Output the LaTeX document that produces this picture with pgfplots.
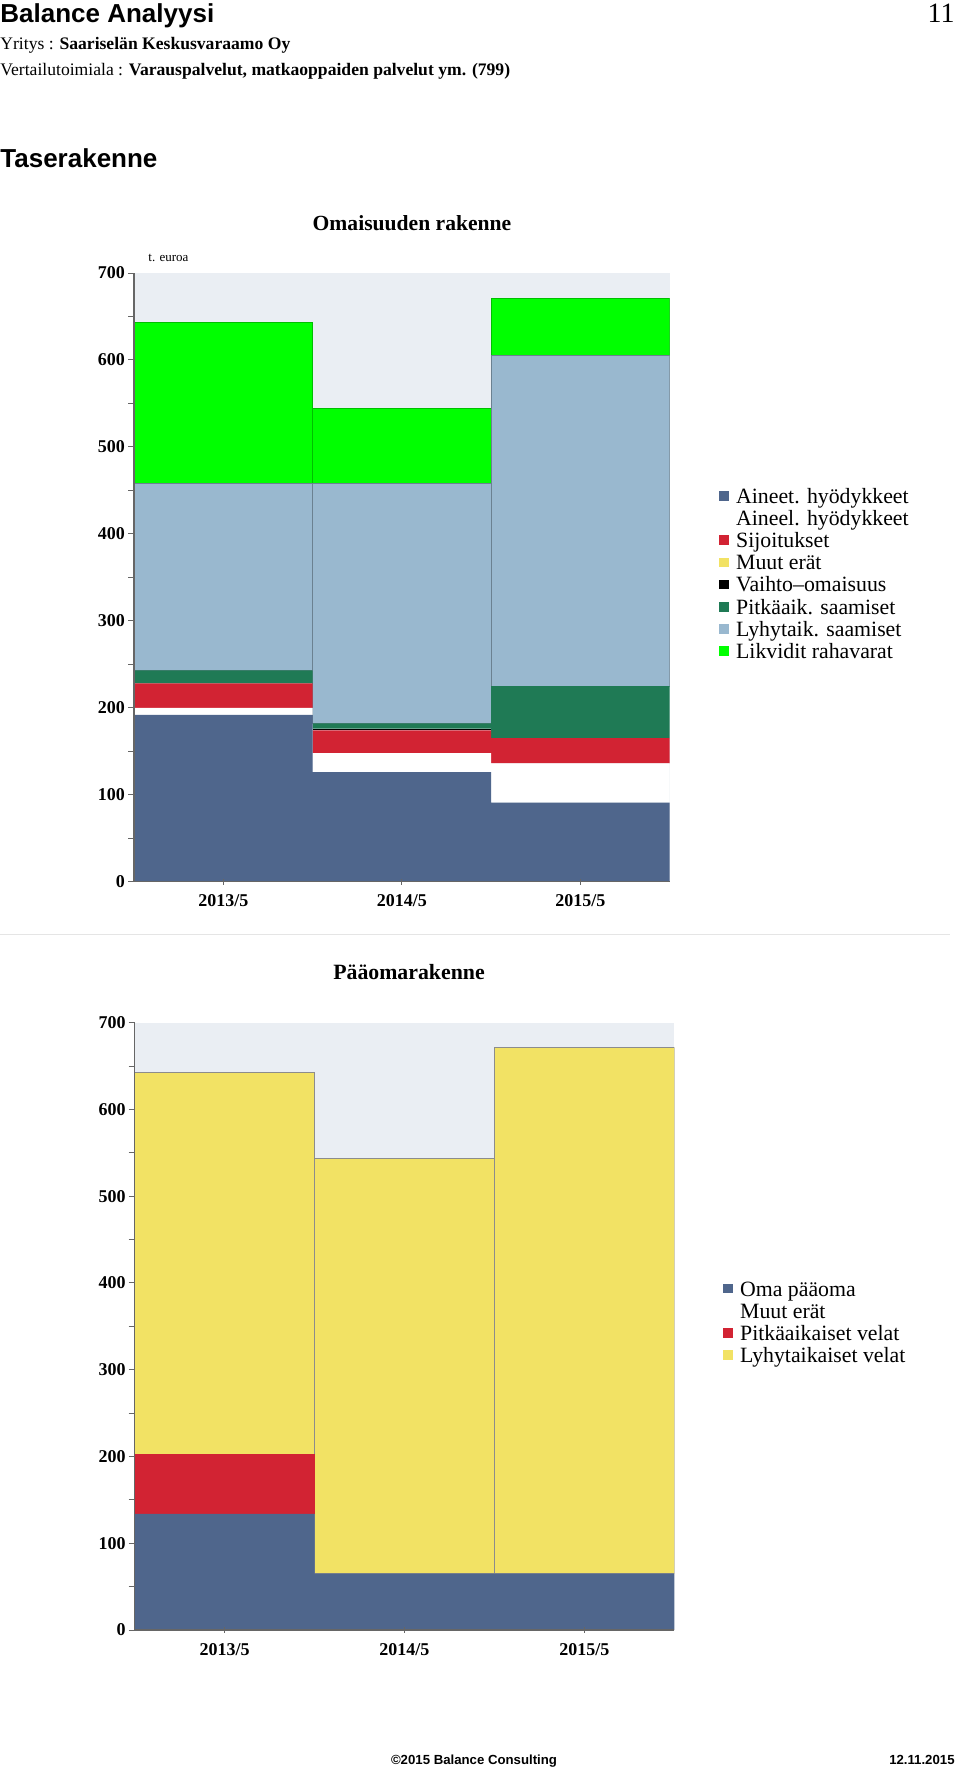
\documentclass[border=0pt]{standalone}
\usepackage{pgfplots}
\pgfplotsset{compat=1.18}
\usepackage{fontspec}
\setmainfont{Liberation Serif}
\newfontfamily\sansf{Liberation Sans}

\definecolor{cblue}{HTML}{4F668C}
\definecolor{cred}{HTML}{D22333}
\definecolor{cyellow}{HTML}{F2E264}
\definecolor{cgreen}{HTML}{1F7A55}
\definecolor{clblue}{HTML}{99B8CF}
\definecolor{clime}{HTML}{00FF00}
\definecolor{cbg}{HTML}{EAEEF3}

\pgfplotsset{
  balstyle/.style={
    scale only axis,
    ybar stacked, bar width=1,
    xmin=0, xmax=3, ymin=0, ymax=700,
    enlarge x limits=false, enlarge y limits=false,
    axis x line*=bottom, axis y line*=left,
    axis line style={draw=black!60, line width=0.6pt},
    axis background/.style={fill=cbg},
    xtick={0.5,1.5,2.5}, xticklabels={\textbf{2013/5},\textbf{2014/5},\textbf{2015/5}},
    ytick={0,100,...,700}, minor y tick num=1,
    yticklabel={\textbf{\pgfmathprintnumber{\tick}}},
    tick align=outside, major tick length=3pt, minor tick length=3pt,
    tick style={draw=black!60, line width=0.5pt},
    xtick style={yshift=1.6pt},
    every tick label/.append style={font=\bfseries\fontsize{9}{10}\selectfont},
    yticklabel style={xshift=2pt},
    /pgf/number format/assume math mode=true,
    axis on top,
    legend cell align=left,
    legend image code/.code={\fill[##1,draw=none] (0pt,1.3pt) rectangle (4.8pt,6.1pt);},
  }
}

\begin{document}
\begin{tikzpicture}
\useasboundingbox (0,0) rectangle (480pt,-884pt);

% header
\node[anchor=base west, inner sep=0pt, font=\sansf\bfseries\fontsize{13}{15}\selectfont] at (0pt,-11pt) {Balance Analyysi};
\node[anchor=base east, inner sep=0pt, font=\fontsize{14}{16}\selectfont] at (477.5pt,-11pt) {11};
\node[anchor=base west, inner sep=0pt, font=\fontsize{8.8}{10}\selectfont] at (0pt,-24.5pt) {Yritys : \textbf{Saariselän Keskusvaraamo Oy}};
\node[anchor=base west, inner sep=0pt, font=\fontsize{8.8}{10}\selectfont] at (0pt,-37.5pt) {Vertailutoimiala : \textbf{Varauspalvelut, matkaoppaiden palvelut ym. (799)}};
\node[anchor=base west, inner sep=0pt, font=\sansf\bfseries\fontsize{13}{15}\selectfont] at (0pt,-83.5pt) {Taserakenne};
\node[anchor=base, inner sep=0pt, font=\bfseries\fontsize{10.8}{12}\selectfont] at (206pt,-115pt) {Omaisuuden rakenne};
\node[anchor=base west, inner sep=0pt, font=\fontsize{6.5}{7}\selectfont] at (74pt,-130.8pt) {t. euroa};

% separator
\draw[black!10, line width=0.6pt] (0pt,-467.2pt) -- (475pt,-467.2pt);

\node[anchor=base, inner sep=0pt, font=\bfseries\fontsize{10.9}{12}\selectfont] at (204.5pt,-489.5pt) {Pääomarakenne};

% footer
\node[anchor=base, inner sep=0pt, font=\sansf\bfseries\fontsize{6.6}{8}\selectfont] at (237pt,-882pt) {©2015 Balance Consulting};
\node[anchor=base east, inner sep=0pt, font=\sansf\bfseries\fontsize{6.6}{8}\selectfont] at (477.5pt,-882pt) {12.11.2015};

% ---------- Omaisuuden rakenne ----------
\begin{axis}[balstyle,
  at={(67pt,-440.85pt)}, anchor=south west,
  width=267.85pt, height=304.35pt,
  legend style={draw=none, fill=none, inner sep=0pt, outer sep=0pt,
    row sep=0pt, column sep=3.8pt,
    font=\fontsize{10.9}{11}\selectfont,
    nodes={inner sep=0pt, anchor=base west, text height=8pt, text depth=3.07pt},
    at={(1.092,0.6478)}, anchor=north west},
]
\addplot[fill=cblue, draw=none] coordinates {(0.5,192) (1.5,126) (2.5,91)};
\addlegendentry{Aineet. hyödykkeet}
\addplot[fill=white, draw=none] coordinates {(0.5,8) (1.5,22) (2.5,45)};
\addlegendentry{Aineel. hyödykkeet}
\addplot[fill=cred, draw=none] coordinates {(0.5,28) (1.5,26) (2.5,29)};
\addlegendentry{Sijoitukset}
\addplot[fill=cyellow, draw=none] coordinates {(0.5,0) (1.5,0) (2.5,0)};
\addlegendentry{Muut erät}
\addplot[fill=black, draw=none] coordinates {(0.5,0) (1.5,2) (2.5,0)};
\addlegendentry{Vaihto--omaisuus}
\addplot[fill=cgreen, draw=none] coordinates {(0.5,15) (1.5,6) (2.5,60)};
\addlegendentry{Pitkäaik. saamiset}
\addplot[fill=clblue, draw=clblue!70!black, line width=0.4pt] coordinates {(0.5,215) (1.5,276) (2.5,380)};
\addlegendentry{Lyhytaik. saamiset}
\addplot[fill=clime, draw=clime!75!black, line width=0.4pt] coordinates {(0.5,185) (1.5,86) (2.5,66)};
\addlegendentry{Likvidit rahavarat}
\end{axis}

% ---------- Pääomarakenne ----------
\begin{axis}[balstyle,
  at={(67.3pt,-815pt)}, anchor=south west,
  width=269.85pt, height=303.65pt,
  legend style={draw=none, fill=none, inner sep=0pt, outer sep=0pt,
    row sep=0pt, column sep=3.8pt,
    font=\fontsize{10.9}{11}\selectfont,
    nodes={inner sep=0pt, anchor=base west, text height=8pt, text depth=3.07pt},
    at={(1.0902,0.5763)}, anchor=north west},
]
\addplot[fill=cblue, draw=none] coordinates {(0.5,134) (1.5,65) (2.5,65)};
\addlegendentry{Oma pääoma}
\addplot[fill=white, draw=none] coordinates {(0.5,0) (1.5,0) (2.5,0)};
\addlegendentry{Muut erät}
\addplot[fill=cred, draw=none] coordinates {(0.5,69) (1.5,0) (2.5,0)};
\addlegendentry{Pitkäaikaiset velat}
\addplot[fill=cyellow, draw=black!45, line width=0.4pt] coordinates {(0.5,440) (1.5,479) (2.5,606)};
\addlegendentry{Lyhytaikaiset velat}
\end{axis}
\end{tikzpicture}
\end{document}
